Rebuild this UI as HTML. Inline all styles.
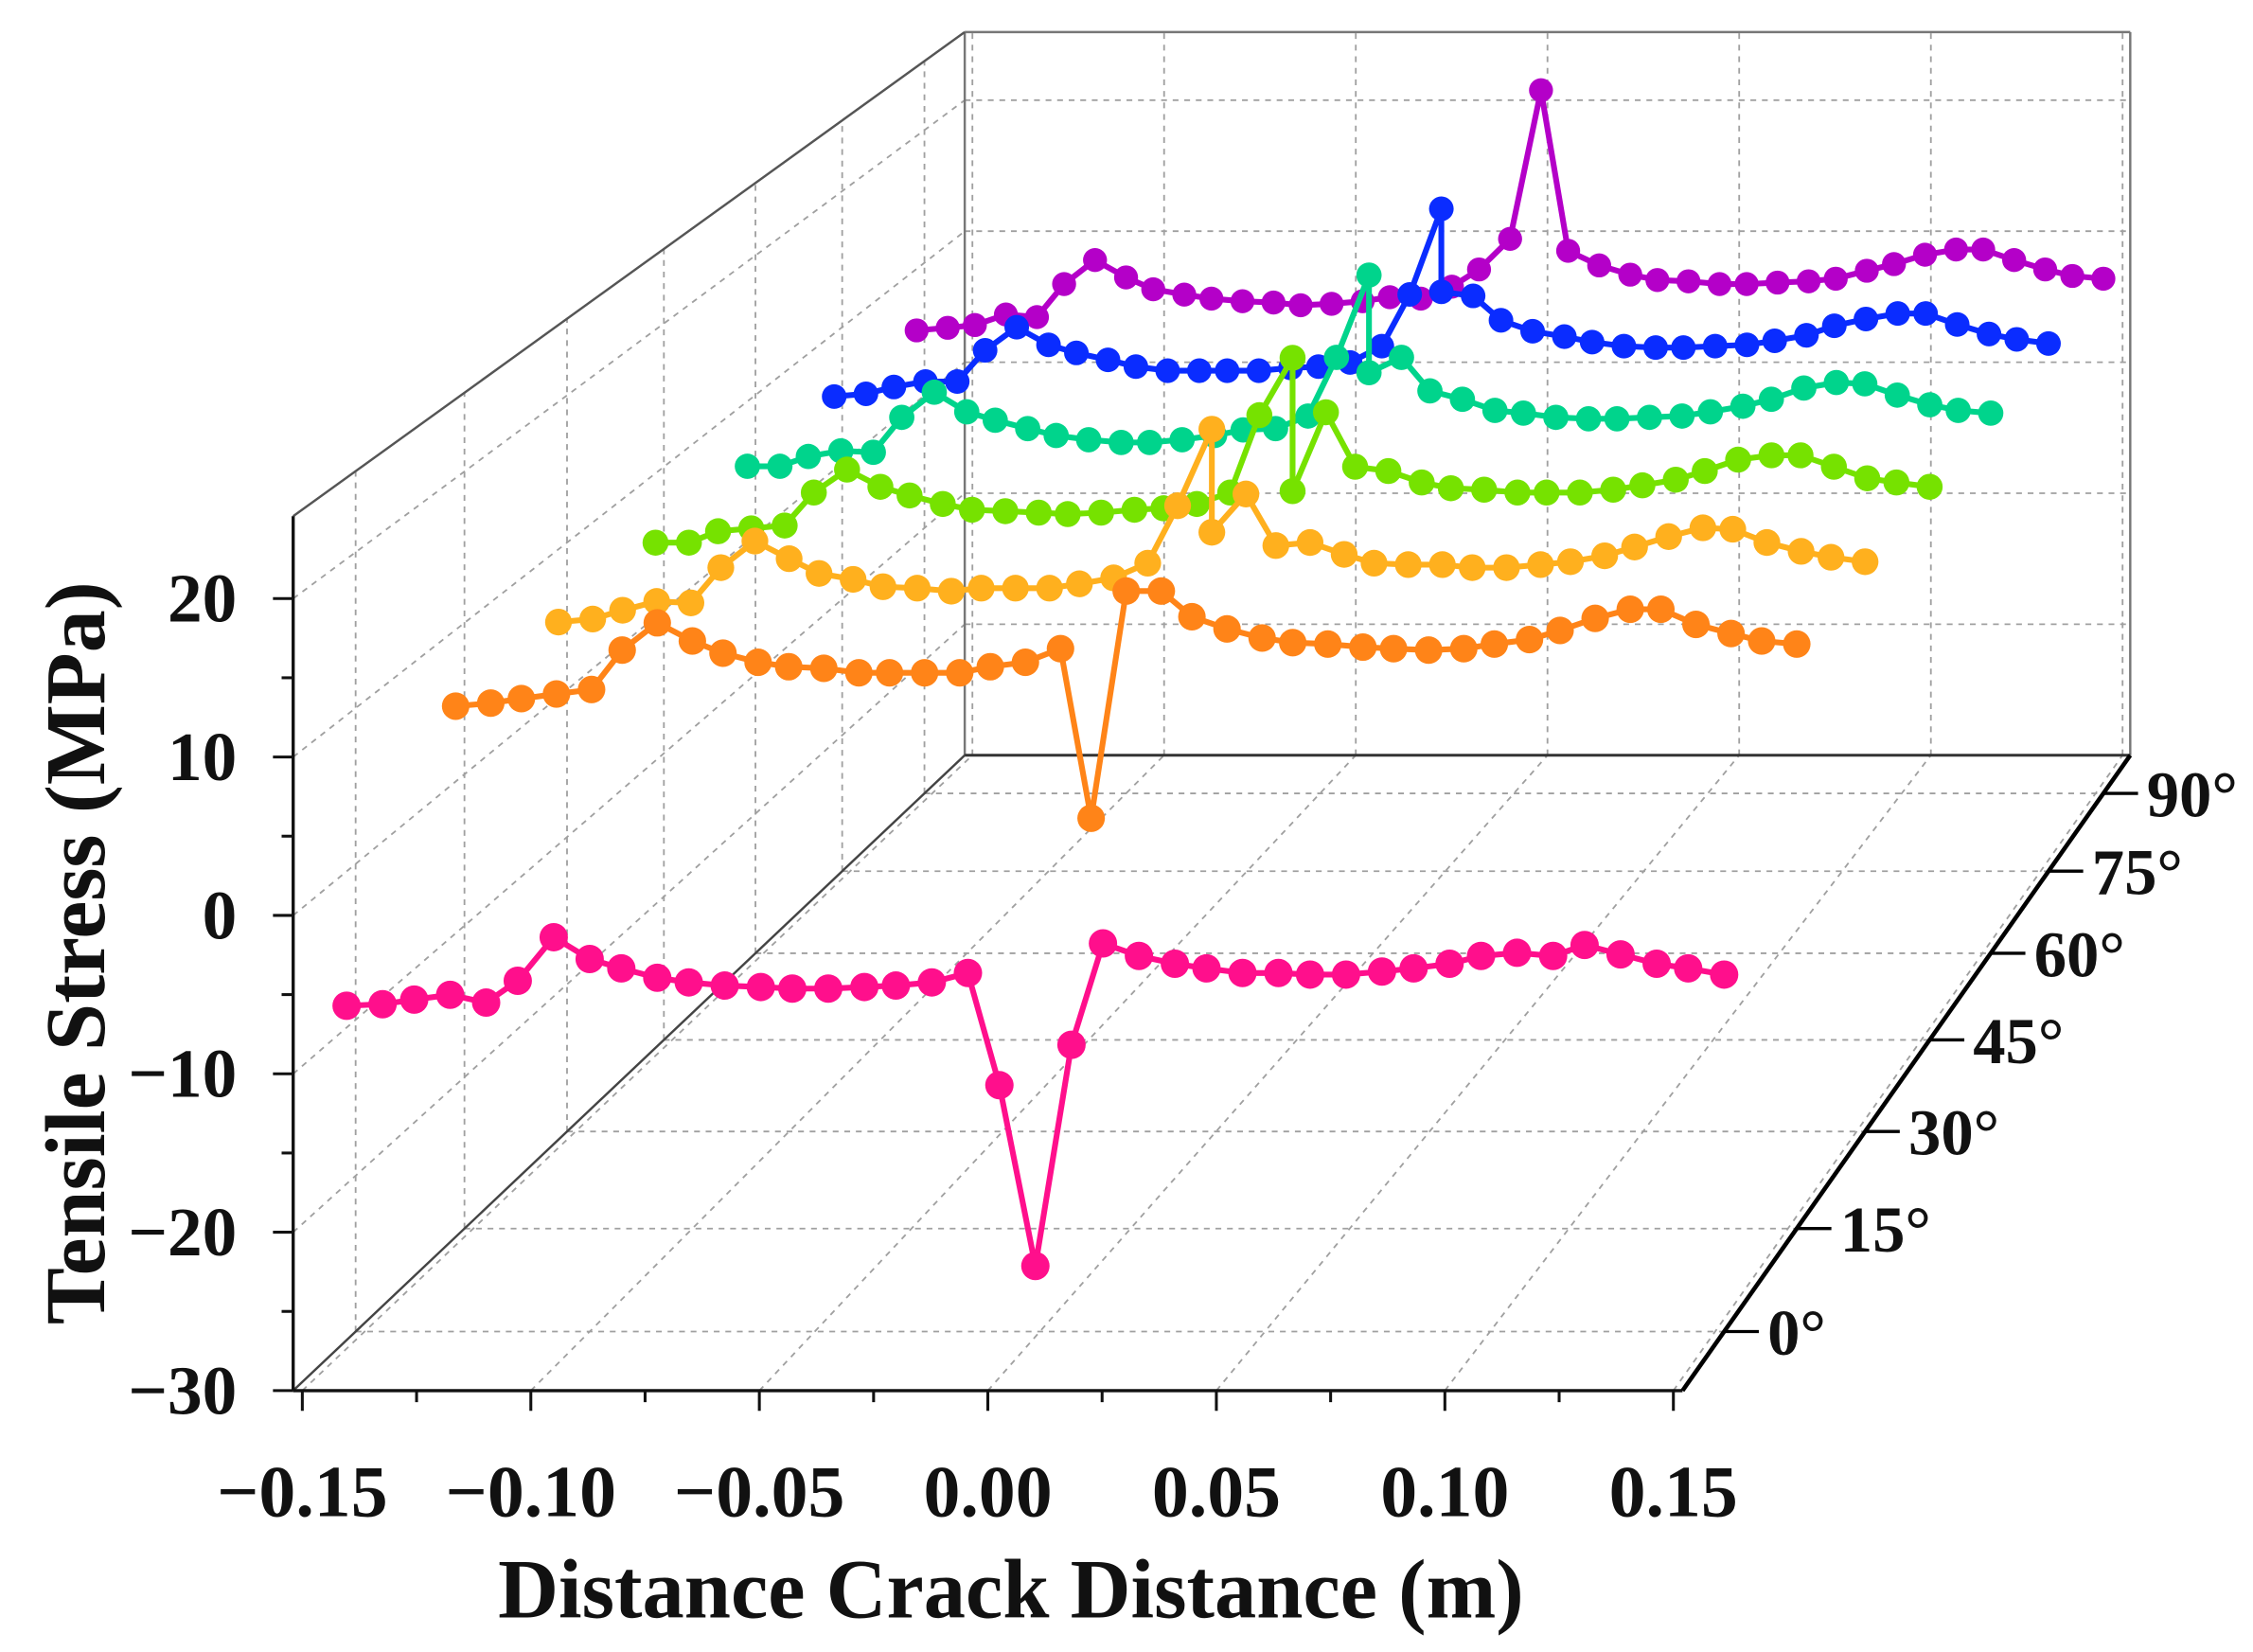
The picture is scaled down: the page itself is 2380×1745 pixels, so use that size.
<!DOCTYPE html>
<html><head><meta charset="utf-8"><style>
html,body{margin:0;padding:0;background:#fff;}
svg{display:block;}
text{font-family:"Liberation Serif",serif;font-weight:bold;fill:#111;}
</style></head><body>
<svg id="chart" xmlns="http://www.w3.org/2000/svg" width="2380" height="1745" viewBox="0 0 1560 1144" preserveAspectRatio="none">
<g id="grid"></g>
<g id="frame"></g>
<g id="series"></g>
<g id="labels"></g>
</svg>
<script>
// ---- data ----
const xTicks = [-0.15, -0.10, -0.05, 0.00, 0.05, 0.10, 0.15];
const xTickLabels = ["\u22120.15", "\u22120.10", "\u22120.05", "0.00", "0.05", "0.10", "0.15"];
const zTicks = [-30, -20, -10, 0, 10, 20];
const zTickLabels = ["\u221230", "\u221220", "\u221210", "0", "10", "20"];
const angleTicks = [0, 15, 30, 45, 60, 75, 90];
const angleTickLabels = ["0\u00b0", "15\u00b0", "30\u00b0", "45\u00b0", "60\u00b0", "75\u00b0", "90\u00b0"];

const xPlain = [-0.154,-0.146,-0.139,-0.131,-0.123,-0.116,-0.108,-0.100,-0.093,-0.085,-0.078,-0.070,-0.062,-0.055,-0.047,-0.039,-0.032,-0.024,-0.016,-0.009,-0.001,0.007,0.014,0.022,0.030,0.037,0.045,0.053,0.060,0.068,0.076,0.083,0.091,0.098,0.106,0.114,0.121,0.129,0.137,0.144,0.152];
const xDup = [-0.154,-0.146,-0.139,-0.131,-0.123,-0.116,-0.108,-0.100,-0.093,-0.085,-0.078,-0.070,-0.062,-0.055,-0.047,-0.039,-0.032,-0.024,-0.016,-0.009,-0.001,-0.001,0.007,0.014,0.022,0.030,0.037,0.045,0.053,0.060,0.068,0.076,0.083,0.091,0.098,0.106,0.114,0.121,0.129,0.137,0.144,0.152];

const stress0 = [-9.1,-9.0,-8.7,-8.4,-8.9,-7.5,-4.7,-6.1,-6.7,-7.3,-7.6,-7.8,-7.9,-8.0,-8.0,-7.9,-7.8,-7.6,-7.0,-14.2,-25.8,-11.6,-5.1,-5.9,-6.4,-6.7,-7.0,-7.0,-7.1,-7.1,-6.9,-6.7,-6.4,-5.9,-5.7,-5.9,-5.2,-5.8,-6.4,-6.7,-7.1];
const stress15 = [4.5,4.7,5.0,5.3,5.6,8.2,10.0,8.8,8.0,7.4,7.1,7.0,6.7,6.7,6.7,6.7,7.1,7.4,8.3,-2.9,12.1,12.1,10.4,9.6,9.0,8.7,8.6,8.4,8.3,8.2,8.3,8.6,8.9,9.5,10.3,10.9,10.9,9.9,9.3,8.8,8.6];
const stress30 = [4.6,4.8,5.4,6.0,5.9,8.3,10.1,8.9,7.9,7.5,7.0,6.9,6.7,6.9,6.9,6.9,7.2,7.6,8.6,12.5,17.7,10.7,13.3,9.8,10.0,9.2,8.6,8.5,8.5,8.3,8.3,8.5,8.7,9.1,9.7,10.4,11.0,10.9,10.0,9.4,9.0,8.7];
const stress45 = [4.7,4.7,5.5,5.7,5.9,8.2,9.8,8.6,8.0,7.4,7.0,6.9,6.8,6.7,6.8,7.0,7.1,7.4,8.2,13.6,17.6,8.3,13.8,10.0,9.7,8.9,8.5,8.4,8.2,8.2,8.2,8.4,8.7,9.1,9.7,10.5,10.8,10.8,10.0,9.2,8.9,8.6];
const stress60 = [4.9,4.9,5.6,6.0,5.9,8.4,10.2,8.8,8.2,7.6,7.1,6.8,6.6,6.6,6.8,7.1,7.5,7.6,8.5,12.7,18.6,11.6,12.7,10.3,9.7,8.9,8.7,8.4,8.3,8.3,8.4,8.5,8.8,9.2,9.7,10.5,10.9,10.8,10.0,9.3,8.9,8.7];
const stress75 = [4.9,5.1,5.6,6.0,6.0,8.3,10.0,8.7,8.1,7.6,7.1,6.8,6.8,6.8,6.8,7.0,7.1,7.4,8.6,12.4,18.7,12.6,12.3,10.5,9.7,9.3,8.9,8.6,8.5,8.5,8.6,8.7,9.0,9.4,10.1,10.6,11.0,11.0,10.2,9.5,9.1,8.8];
const stress90 = [4.9,5.1,5.3,6.1,5.9,8.4,10.2,8.9,8.0,7.6,7.3,7.1,7.0,6.8,6.9,7.1,7.4,7.3,8.2,9.5,11.8,23.0,10.9,9.8,9.1,8.7,8.6,8.4,8.4,8.5,8.6,8.8,9.4,9.9,10.6,11.0,11.0,10.2,9.5,9.0,8.8];

const seriesAngles = [90, 75, 60, 45, 30, 15, 0];
const seriesColors = ["#b400c8", "#0a2cff", "#00d48c", "#76e200", "#ffb01e", "#ff8418", "#ff0f8c"];
const seriesX = [xPlain, xDup, xDup, xDup, xDup, xPlain, xPlain];
const seriesValues = [stress90, stress75, stress60, stress45, stress30, stress15, stress0];

// ---- axis functions ----
const X_MIN = -0.152, X_MAX = 0.152, Z_MIN = -30, Z_MAX = 25.2;
function depth(a) { const t = a / 90, c = 0.183; return 0.093 + 0.847 * t * (1 + c) / (1 + c * t); }
function proj(x, g, z) {
  const L = 203 + 465 * g, W = 962 - 155 * g, bottom = 963 - 440 * g, k = 10.97 * (1 - 0.173 * g);
  return [L + (x - X_MIN) / (X_MAX - X_MIN) * W, bottom - (z - Z_MIN) * k];
}
const NS = "http://www.w3.org/2000/svg";
function mk(tag, parent, attrs) {
  const e = document.createElementNS(NS, tag);
  for (const k in attrs) e.setAttribute(k, attrs[k]);
  parent.appendChild(e); return e;
}
function line(parent, p, q, stroke, w, dash) {
  const a = {x1: p[0], y1: p[1], x2: q[0], y2: q[1], stroke: stroke, "stroke-width": w};
  if (dash) a["stroke-dasharray"] = dash;
  return mk("line", parent, a);
}
const grid = document.getElementById("grid");
const frame = document.getElementById("frame");
const ser = document.getElementById("series");
const lab = document.getElementById("labels");
const GC = "#a0a0a0", GD = "4 4";

xTicks.forEach(x => {
  const l = line(grid, proj(x, 0, Z_MIN), proj(x, 1, Z_MIN), GC, 1.2, GD);
  
  
  const b = line(grid, proj(x, 1, Z_MIN), proj(x, 1, Z_MAX), GC, 1.2, GD);
  
  
});
angleTicks.forEach(a => {
  const g = depth(a);
  const l = line(grid, proj(X_MIN, g, Z_MIN), proj(X_MAX, g, Z_MIN), GC, 1.2, GD);
  
  
  const w = line(grid, proj(X_MIN, g, Z_MIN), proj(X_MIN, g, Z_MAX), GC, 1.2, GD);
  
  
});
zTicks.forEach(z => {
  const l = line(grid, proj(X_MIN, 0, z), proj(X_MIN, 1, z), GC, 1.2, GD);
  
  
  const b = line(grid, proj(X_MIN, 1, z), proj(X_MAX, 1, z), GC, 1.2, GD);
  
  
});

function fl(p, q, c, w, name) {
  const l = line(frame, p, q, c, w);
  
  
}
fl(proj(X_MIN, 1, Z_MIN), proj(X_MIN, 1, Z_MAX), "#777", 1.6, "back-left-edge");
fl(proj(X_MAX, 1, Z_MIN), proj(X_MAX, 1, Z_MAX), "#777", 1.6, "back-right-edge");
fl(proj(X_MIN, 1, Z_MAX), proj(X_MAX, 1, Z_MAX), "#777", 1.6, "back-top-edge");
fl(proj(X_MIN, 0, Z_MAX), proj(X_MIN, 1, Z_MAX), "#555", 1.6, "left-top-edge");
fl(proj(X_MIN, 1, Z_MIN), proj(X_MAX, 1, Z_MIN), "#333", 2, "back-bottom-edge");
fl(proj(X_MIN, 0, Z_MIN), proj(X_MIN, 1, Z_MIN), "#444", 1.6, "left-floor-edge");
fl(proj(X_MIN, 0, Z_MIN), proj(X_MIN, 0, Z_MAX), "#111", 2.2, "z-axis-line");
fl(proj(X_MIN, 0, Z_MIN), proj(X_MAX, 0, Z_MIN), "#111", 2.2, "x-axis-line");
fl(proj(X_MAX, 0, Z_MIN), proj(X_MAX, 1, Z_MIN), "#000", 3, "angle-axis-line");

for (let z = -25; z <= 15; z += 10) {
  const p = proj(X_MIN, 0, z);
  const t = line(frame, p, [p[0] - 8, p[1]], "#111", 2);
  
  
}
zTicks.forEach((z, i) => {
  const p = proj(X_MIN, 0, z);
  const t = line(frame, p, [p[0] - 14, p[1]], "#111", 2);
  
  
  const tx = mk("text", lab, {x: 164, y: p[1] + 16, "text-anchor": "end", "font-size": 48});
  tx.textContent = zTickLabels[i];
  
  
});
for (let k = 0; k < 6; k++) {
  const x = xTicks[k] + 0.025;
  const p = proj(x, 0, Z_MIN);
  const t = line(frame, p, [p[0], p[1] + 8], "#111", 2);
  
  
}
xTicks.forEach((x, i) => {
  const p = proj(x, 0, Z_MIN);
  const t = line(frame, p, [p[0], p[1] + 14], "#111", 2);
  
  
  const tx = mk("text", lab, {x: p[0], y: 1050, "text-anchor": "middle", "font-size": 51});
  tx.textContent = xTickLabels[i];
  
  
});
angleTicks.forEach((a, i) => {
  const p = proj(X_MAX, depth(a), Z_MIN);
  const t = line(frame, p, [p[0] + 24, p[1]], "#000", 2.2);
  
  
  const tx = mk("text", lab, {x: p[0] + 30, y: p[1] + 16, "font-size": 45});
  tx.textContent = angleTickLabels[i];
  
  
});
const xt = mk("text", lab, {x: 700, y: 1120, "text-anchor": "middle", "font-size": 58});
xt.textContent = "Distance Crack Distance (m)";


const yt = mk("text", lab, {x: 0, y: 0, "text-anchor": "middle", "font-size": 59, transform: "translate(72,660) rotate(-90)"});
yt.textContent = "Tensile Stress (MPa)";



seriesAngles.forEach((a, s) => {
  const g = depth(a);
  const xs = seriesX[s], vs = seriesValues[s];
  const grp = mk("g", ser, {});
  
  
  const pts = vs.map((v, i) => proj(xs[i], g, v));
  const pl = mk("polyline", grp, {points: pts.map(p => p[0].toFixed(1) + "," + p[1].toFixed(1)).join(" "), fill: "none", stroke: seriesColors[s], "stroke-width": 4, "stroke-linejoin": "round"});
  
  
  const r = 10 * (1 - 0.18 * g);
  pts.forEach(p => {
    const c = mk("circle", grp, {cx: p[0].toFixed(1), cy: p[1].toFixed(1), r: r.toFixed(2), fill: seriesColors[s]});
    
    
  });
});
</script>
</body></html>
